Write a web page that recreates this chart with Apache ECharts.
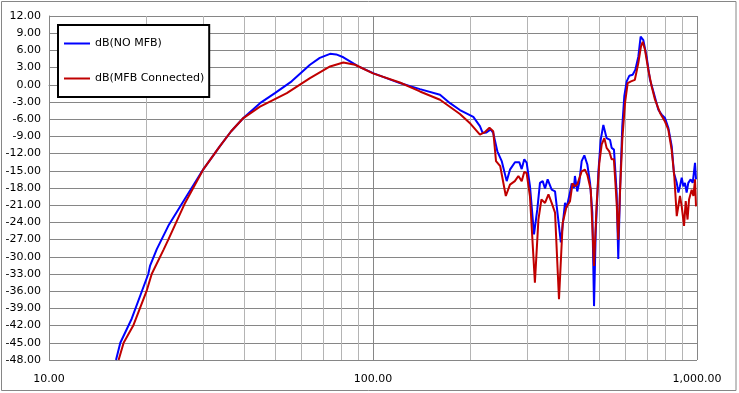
<!DOCTYPE html>
<html>
<head>
<meta charset="utf-8">
<script src="https://cdn.jsdelivr.net/npm/echarts@6/dist/echarts.min.js"></script>
<style>
html,body{margin:0;padding:0;background:#fff;}
#c{width:739px;height:393px;}
</style>
</head>
<body>
<div id="c"></div>
<script>
// ---- data (frequency in Hz, level in dB) ----
const noMfbFreq = [16.1,16.6,18.0,20.25,20.5,21.5,23.35,26.6,29.9,33.7,36.5,39.8,44.8,49.8,56.1,63.9,68.5,73.7,77,81.0,90.1,100.5,121,139.6,161,172.9,185.5,204,213.8,218,224,230.8,235,242,249.6,258.6,264.7,274.3,282.8,287.7,293,298.1,305.2,314,321.5,327.6,334,339.6,346,356,364.6,380,391.4,396,405.5,410.4,417,420,427,433,440.6,449,458.7,467.6,475.3,481,486.8,496,504.4,514,526,539,545.3,554.3,565,571.5,578.4,588,596.5,606.7,618,633,645,659,670,675,683,699,716,733.5,759.7,778,796.5,815.6,835.4,849,866,876,886,897,907.6,918,929,940,956,970,986,993];
const noMfbDb   = [-48,-45,-40.8,-33,-31.6,-28.7,-24.6,-19.4,-14.8,-10.7,-8.1,-5.8,-3.2,-1.45,0.6,3.5,4.7,5.4,5.3,4.8,3.2,2.0,0.3,-0.75,-1.74,-3.2,-4.4,-5.6,-7.2,-8.4,-8.3,-7.8,-8.4,-11.6,-13.3,-16.8,-14.8,-13.5,-13.5,-14.7,-13.0,-13.6,-17.7,-26.1,-21.7,-17.1,-16.8,-18.1,-16.5,-18.3,-18.6,-27.5,-20.6,-21.4,-18.8,-17.2,-18.0,-15.9,-18.6,-17.1,-13.3,-12.3,-13.9,-17.1,-22.3,-38.6,-25.8,-15.4,-9.6,-7.0,-9.3,-9.6,-11.0,-11.3,-18.8,-30.4,-18.8,-7.25,-2.0,0.6,1.57,1.74,2.6,4.9,8.4,8.7,7.8,4.9,0.87,-1.16,-4.35,-5.2,-5.8,-7.5,-10.7,-15.4,-17.1,-18.8,-17.7,-16.2,-17.7,-17.1,-18.8,-17.1,-16.5,-17.1,-13.6,-16.5];

const mfbFreq = [16.4,17.0,18.2,20.0,20.75,22.6,23.35,26.3,29.9,33.7,36.5,39.8,44.8,54.2,63.9,73.7,81,88,100,121,139.6,161,185.5,200,213.8,216.5,222,228.8,235,239.7,247,257,264.7,274,281,287.7,293,298,305,316,324,331,339.6,348,356,364.6,375,385,395,405.5,413,420,427,440.6,451,458.7,470,481,490,499.5,508,517.6,526,536,545,554,565,571.5,578,588,599.5,611,625.6,643,659,671.6,680,691,707.5,724.7,742,769,796.5,815.6,835,851,866,876,886,897,912,923,935,945,963,975,986,993];
const mfbDb   = [-48,-45,-42.0,-36.0,-33,-28.7,-27.0,-20.6,-14.8,-10.7,-8.1,-5.8,-3.8,-1.45,1.16,3.2,3.9,3.5,2.0,0.4,-1.16,-2.6,-5.1,-6.8,-8.7,-9.0,-8.2,-7.5,-8.1,-13.3,-14.2,-19.4,-17.4,-16.8,-15.9,-16.8,-15.2,-15.4,-19.4,-34.5,-23.5,-20.0,-20.6,-19.1,-20.6,-22.3,-37.4,-24.1,-21.4,-20.3,-17.2,-17.7,-17.4,-15.1,-14.8,-15.7,-18.3,-31.6,-20.9,-13.6,-10.4,-9.3,-11.0,-11.6,-13.0,-13.0,-20.6,-27.0,-19.4,-9.6,-3.2,0.3,0.6,0.87,3.8,6.7,7.5,6.1,2.6,-0.3,-2.6,-4.9,-6.4,-7.8,-11.3,-16.0,-22.9,-23.2,-19.4,-21.2,-24.6,-20.3,-23.5,-20.0,-18.3,-19.4,-16.5,-21.2];

const seriesNames = ['dB(NO MFB)', 'dB(MFB Connected)'];
const minorGridFreqs = [20,30,40,50,60,70,80,90,200,300,400,500,600,700,800,900];
const yMin = -48, yMax = 12, yStep = 3;
const xMin = 10, xMax = 1000;

const FONT = 'DejaVu Sans';
const pairs = (f, d) => f.map((v, i) => [v, d[i]]);

function fmtNum(v) {
  const s = Math.abs(v).toFixed(2);
  const parts = s.split('.');
  parts[0] = parts[0].replace(/\B(?=(\d{3})+(?!\d))/g, ',');
  const out = parts.join('.');
  return (v < 0 && Math.abs(v) > 1e-9 ? '-' : '') + out;
}

const chart = echarts.init(document.getElementById('c'), null, {renderer: 'canvas'});
chart.setOption({
  animation: false,
  backgroundColor: '#fff',
  graphic: [{
    type: 'rect', silent: true, z: -10,
    shape: {x: 1.5, y: 1.5, width: 734.5, height: 389},
    style: {fill: 'none', stroke: '#868686', lineWidth: 1}
  }],
  grid: {left: 49, top: 16, width: 648, height: 344, containLabel: false},
  legend: {
    orient: 'vertical', left: 58, top: 25,
    padding: [13, 5, 13, 6], itemGap: 24,
    itemWidth: 26, itemHeight: 2,
    borderColor: '#000', borderWidth: 2, backgroundColor: '#fff',
    textStyle: {fontFamily: FONT, fontSize: 11, color: '#000'},
    data: [{name: seriesNames[0], icon: 'rect'}, {name: seriesNames[1], icon: 'rect'}]
  },
  xAxis: {
    type: 'log', logBase: 10, min: xMin, max: xMax,
    axisLine: {show: true, lineStyle: {color: '#868686', width: 1}},
    axisTick: {show: false},
    axisLabel: {fontFamily: FONT, fontSize: 11, color: '#000', margin: 14, formatter: v => fmtNum(v)},
    splitLine: {show: true, lineStyle: {color: '#868686', width: 1}}
  },
  yAxis: {
    type: 'value', min: yMin, max: yMax, interval: yStep,
    axisLine: {show: true, lineStyle: {color: '#868686', width: 1}},
    axisTick: {show: false},
    axisLabel: {fontFamily: FONT, fontSize: 11, color: '#000', margin: 8, formatter: v => fmtNum(v)},
    splitLine: {show: true, lineStyle: {color: '#868686', width: 1}}
  },
  series: [
    {
      name: seriesNames[0], type: 'line', showSymbol: false, symbol: 'none',
      data: pairs(noMfbFreq, noMfbDb),
      lineStyle: {color: '#0000ff', width: 2}, itemStyle: {color: '#0000ff'},
      z: 3,
      markLine: {
        silent: true, symbol: ['none', 'none'], label: {show: false}, z: 1,
        lineStyle: {color: '#b4b4b4', width: 1, type: 'solid'},
        emphasis: {disabled: true},
        data: minorGridFreqs.map(f => ({xAxis: f}))
      }
    },
    {
      name: seriesNames[1], type: 'line', showSymbol: false, symbol: 'none',
      data: pairs(mfbFreq, mfbDb),
      lineStyle: {color: '#c00000', width: 2}, itemStyle: {color: '#c00000'},
      z: 4
    }
  ]
});
</script>
</body>
</html>
